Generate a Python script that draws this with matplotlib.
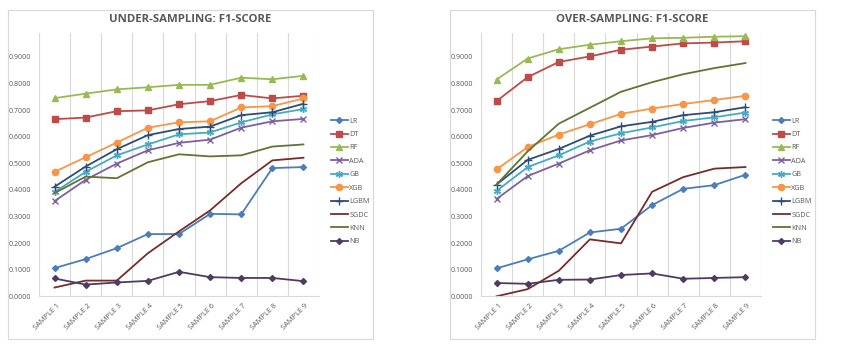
import matplotlib.pyplot as plt
from matplotlib.patches import Rectangle
import numpy as np

samples = ['SAMPLE 1', 'SAMPLE 2', 'SAMPLE 3', 'SAMPLE 4', 'SAMPLE 5',
           'SAMPLE 6', 'SAMPLE 7', 'SAMPLE 8', 'SAMPLE 9']
models = ['LR', 'DT', 'RF', 'ADA', 'GB', 'XGB', 'LGBM', 'SGDC', 'KNN', 'NB']

# under-sampling F1 scores
under_lr = [0.106, 0.140, 0.181, 0.234, 0.234, 0.310, 0.308, 0.482, 0.486]
under_dt = [0.666, 0.672, 0.696, 0.699, 0.722, 0.734, 0.757, 0.744, 0.754]
under_rf = [0.745, 0.762, 0.778, 0.786, 0.795, 0.795, 0.822, 0.816, 0.829]
under_ada = [0.358, 0.438, 0.499, 0.549, 0.577, 0.589, 0.634, 0.658, 0.667]
under_gb = [0.392, 0.468, 0.530, 0.571, 0.609, 0.616, 0.654, 0.684, 0.704]
under_xgb = [0.468, 0.523, 0.578, 0.634, 0.654, 0.658, 0.710, 0.715, 0.744]
under_lgbm = [0.412, 0.488, 0.553, 0.606, 0.629, 0.638, 0.681, 0.692, 0.724]
under_sgdc = [0.033, 0.059, 0.059, 0.162, 0.244, 0.323, 0.425, 0.511, 0.521]
under_knn = [0.388, 0.450, 0.444, 0.504, 0.534, 0.526, 0.530, 0.563, 0.571]
under_nb = [0.067, 0.044, 0.052, 0.058, 0.092, 0.072, 0.069, 0.069, 0.057]

# over-sampling F1 scores
over_lr = [0.105, 0.139, 0.171, 0.240, 0.254, 0.343, 0.404, 0.418, 0.457]
over_dt = [0.734, 0.824, 0.881, 0.902, 0.927, 0.939, 0.951, 0.954, 0.959]
over_rf = [0.815, 0.894, 0.929, 0.946, 0.959, 0.970, 0.972, 0.976, 0.978]
over_ada = [0.366, 0.452, 0.499, 0.549, 0.586, 0.606, 0.633, 0.653, 0.666]
over_gb = [0.396, 0.486, 0.530, 0.582, 0.613, 0.635, 0.659, 0.673, 0.691]
over_xgb = [0.477, 0.561, 0.608, 0.647, 0.686, 0.706, 0.723, 0.738, 0.754]
over_lgbm = [0.420, 0.513, 0.554, 0.604, 0.639, 0.656, 0.681, 0.692, 0.711]
over_sgdc = [0.000, 0.027, 0.096, 0.214, 0.199, 0.393, 0.448, 0.480, 0.486]
over_knn = [0.420, 0.545, 0.649, 0.709, 0.769, 0.805, 0.835, 0.858, 0.877]
over_nb = [0.050, 0.047, 0.062, 0.063, 0.080, 0.086, 0.066, 0.069, 0.072]

under = [under_lr, under_dt, under_rf, under_ada, under_gb,
         under_xgb, under_lgbm, under_sgdc, under_knn, under_nb]
over = [over_lr, over_dt, over_rf, over_ada, over_gb,
        over_xgb, over_lgbm, over_sgdc, over_knn, over_nb]

colors = ['#4a7ebb', '#be4b48', '#98b954', '#7d60a0', '#46aac5',
          '#f79646', '#2c4d75', '#772c2a', '#5f7530', '#4d3b62']
markers = ['D', 's', '^', 'x', (6, 2, 0), 'o', '+', None, None, 'D']
msizes = [3.0, 4.0, 4.5, 4.5, 5.0, 4.5, 5.5, 0, 0, 3.0]

GRID = '#d9d9d9'
TEXT = '#595959'
W, H = 852, 344

fig = plt.figure(figsize=(W / 100, H / 100), dpi=100)


def draw_panel(x0, box_x0, title, series, legend_x):
    # outer chart frame
    fig.add_artist(Rectangle((box_x0 / W, 5 / H), 365 / W, 329 / H,
                             transform=fig.transFigure, fill=False,
                             edgecolor=GRID, linewidth=0.8))
    ax = fig.add_axes([x0 / W, 47.7 / H, 280 / W, 263.3 / H])
    x = np.arange(1, len(samples) + 1)
    for vals, name, c, m, ms in zip(series, models, colors, markers, msizes):
        ax.plot(x, vals, color=c, lw=1.3, marker=m, markersize=ms,
                markeredgewidth=1.0, label=name, clip_on=False)
    ax.set_xlim(0.5, len(samples) + 0.5)
    ax.set_ylim(0, 0.99)
    ax.set_yticks(np.arange(0, 0.91, 0.1))
    ax.set_yticklabels([f'{v:.4f}' for v in np.arange(0, 0.91, 0.1)],
                       fontsize=5, color=TEXT, family='Open Sans')
    ax.set_xticks(np.arange(0.5, len(samples) + 1))
    ax.set_xticklabels([])
    for xi, lab in zip(x, samples):
        ax.text(xi + 0.05, -0.022, lab, rotation=45, ha='right', va='top',
                rotation_mode='anchor', fontsize=5.3, color=TEXT,
                family='Open Sans', transform=ax.get_xaxis_transform())
    ax.tick_params(length=0, pad=6)
    ax.grid(axis='x', color=GRID, lw=0.8)
    ax.set_axisbelow(True)
    for s in ['top', 'right', 'left']:
        ax.spines[s].set_visible(False)
    ax.spines['bottom'].set_color(GRID)
    fig.text((box_x0 + 182) / W, 1 - 19 / H, title, ha='center', va='center',
             fontsize=8.2, fontweight='bold', color=TEXT, family='Open Sans')
    fig.legend(*ax.get_legend_handles_labels(), loc='upper left',
               bbox_to_anchor=((legend_x - 4) / W, 1 - 114 / H),
               frameon=False, handlelength=2.4,
               handletextpad=0.2, labelspacing=0.88, borderpad=0,
               labelcolor=TEXT, prop={'family': 'Open Sans', 'size': 5.2})
    return ax


draw_panel(39, 8, 'UNDER-SAMPLING: F1-SCORE', under, 331)
draw_panel(481, 450, 'OVER-SAMPLING: F1-SCORE', over, 773)

fig.savefig('out.png', dpi=100)
